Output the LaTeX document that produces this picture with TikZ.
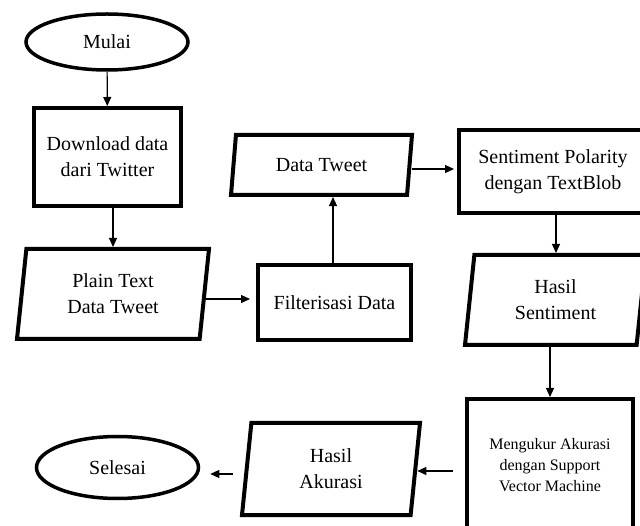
\documentclass[tikz,border=0pt]{standalone}
\usepackage{fontspec}
\setmainfont{Liberation Serif}
\usetikzlibrary{shapes.geometric,arrows.meta,calc}
\tikzset{
  txt/.style={font=\fontsize{20}{26}\selectfont, align=center},
  term/.style={ellipse, draw, line width=3.5pt, inner sep=0pt, txt},
  proc/.style={rectangle, draw, line width=4pt, inner sep=2pt, txt},
  io/.style={trapezium, trapezium left angle=78, trapezium right angle=102,
    trapezium stretches body, draw, line width=4pt, inner sep=2pt, txt},
  arr/.style={-{Triangle[length=9pt,width=8pt]}, line width=1.2pt},
}

\begin{document}
\begin{tikzpicture}[x=1pt,y=1pt]
  \useasboundingbox[fill=white] (0,0) rectangle (640,-526);
  \clip (0,0) rectangle (640,-526);

  % left column
  \node[term, minimum width=162pt, minimum height=56pt] (mulai) at (107,-42) {Mulai};
  \node[proc, minimum width=147pt, minimum height=98pt] (download) at (107.5,-157) {Download data\\dari Twitter};
  \node[io, minimum width=192pt, minimum height=90pt] (plain) at (113,-294) {Plain Text\\Data Tweet};

  % middle
  \node[proc, minimum width=153pt, minimum height=75pt] (filter) at (334.5,-302.5) {Filterisasi Data};
  \node[io, trapezium left angle=74, trapezium right angle=106,
        minimum width=181pt, minimum height=60pt] (tweet) at (321.5,-165) {Data Tweet};

  % right column
  \node[proc, minimum width=188pt, minimum height=83pt] (polar) at (553,-171.5) {Sentiment Polarity\\dengan TextBlob};
  \node[io, minimum width=181pt, minimum height=90pt] (hsent) at (555.5,-300) {Hasil\\Sentiment};
  \node[proc, minimum width=166pt, minimum height=132pt,
        font=\fontsize{16}{21}\selectfont] (svm) at (550,-465) {Mengukur Akurasi\\dengan Support\\Vector Machine};

  % bottom row
  \node[io, minimum width=178pt, minimum height=92pt] (hakur) at (331,-469) {Hasil\\Akurasi};
  \node[term, minimum width=162pt, minimum height=62pt] (selesai) at (117.5,-467.5) {Selesai};

  \draw[arr] (mulai) -- (download);
  \draw[arr] (download.south -| plain.north) -- (plain.north);
  \draw[arr, shorten >=6pt] ([yshift=-5pt]plain.east) -- ([yshift=-5pt]plain.east -| filter.west);
  \draw[arr] (filter.north -| 333,0) -- (tweet.south -| 333,0);
  \draw[arr, shorten >=3pt] ([yshift=-4pt]tweet.east) -- ([yshift=-4pt]tweet.east -| polar.west);
  \draw[arr] (polar.south -| 556,0) -- (hsent.north -| 556,0);
  \draw[arr] (hsent.south -| svm.north) -- (svm.north);
  \draw[arr, shorten <=12pt] ([yshift=-6pt]svm.west) -- ([yshift=-6pt]svm.west -| hakur.east);
  \draw[arr, shorten <=12pt, shorten >=10pt] ([yshift=-5pt]hakur.west) -- ([yshift=-5pt]hakur.west -| selesai.east);
\end{tikzpicture}
\end{document}
